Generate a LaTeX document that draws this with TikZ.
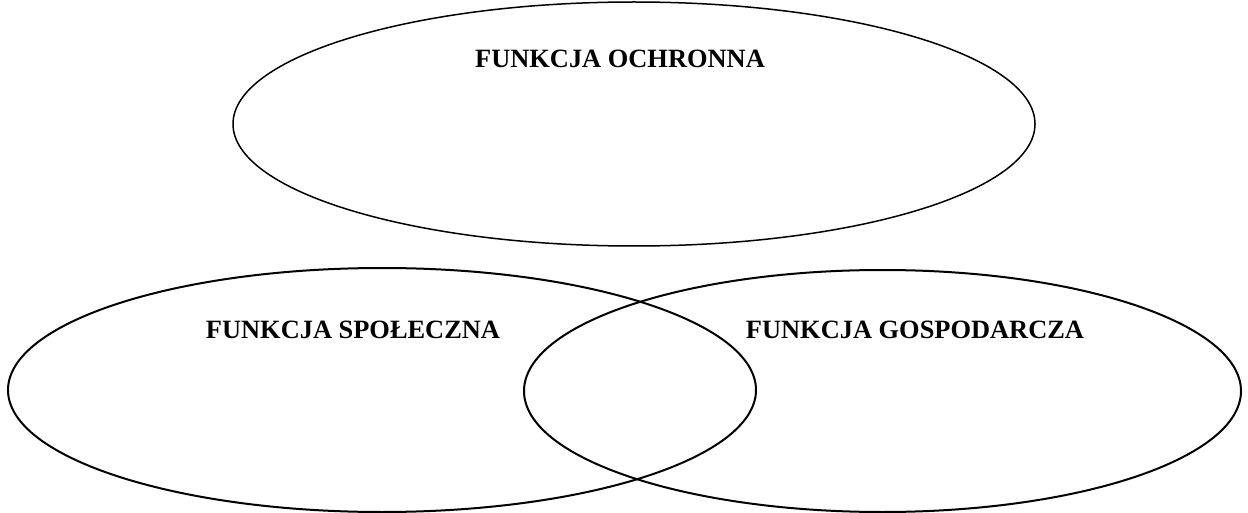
\documentclass[tikz,border=0pt]{standalone}
\usepackage{fontspec}
\setmainfont{Liberation Serif}
\usetikzlibrary{shapes.geometric}

\tikzset{
    ring/.style={draw, ellipse, inner sep=0pt, line width=#1},
    funtext/.style={font=\fontsize{26.4}{30}\selectfont\bfseries, inner sep=0pt}
}

\begin{document}
\begin{tikzpicture}[x=1pt,y=-1pt]
    \pgfmathsetmacro {\lx}{1248}  %Width of picture
    \pgfmathsetmacro {\ly}{513}   %Height of picture
    \useasboundingbox (0,0) rectangle (\lx,\ly);

    % Top ellipse
    \node[ring=1.5pt, minimum width=802pt, minimum height=244pt] (ochr) at (634,124) {};
    % Bottom ellipses
    \node[ring=2pt, minimum width=748pt, minimum height=244pt] (spol) at (382,390) {};
    \node[ring=2pt, minimum width=717pt, minimum height=242pt] (gosp) at (882.5,391) {};

    % Names of the functions
    \node[funtext] (ochrtxt) at (620,59) {FUNKCJA OCHRONNA};
    \node[funtext] (spoltxt) at (353,330) {FUNKCJA SPOŁECZNA};
    \node[funtext] (gosptxt) at (915,330) {FUNKCJA GOSPODARCZA};
\end{tikzpicture}
\end{document}
